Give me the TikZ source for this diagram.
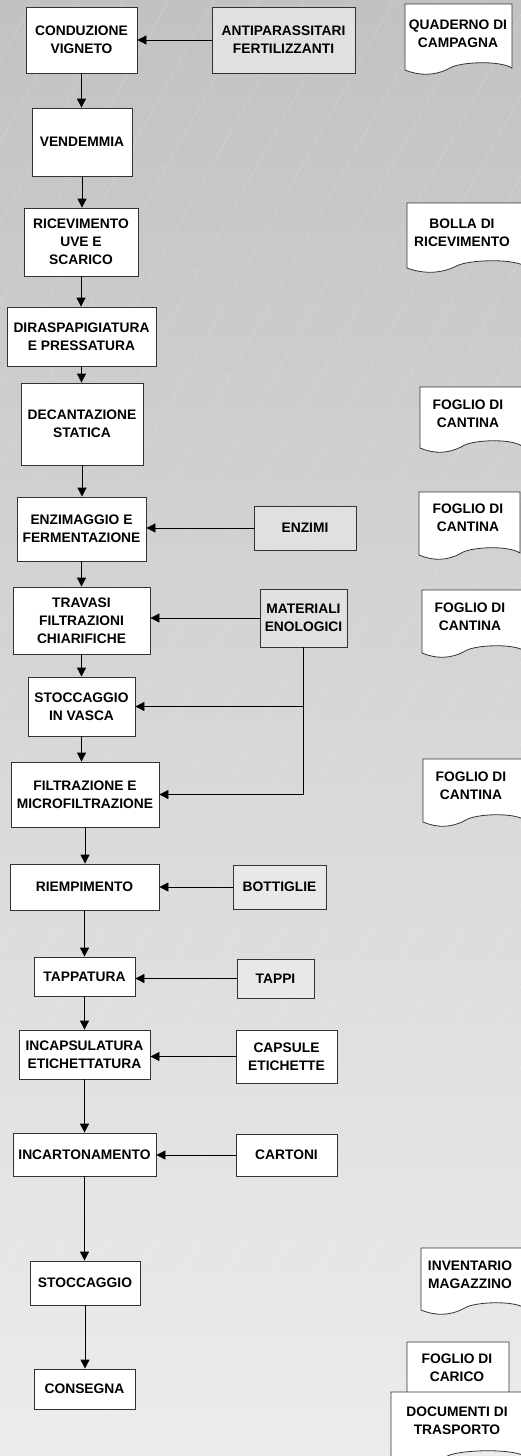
\documentclass[tikz,border=0pt]{standalone}
\usepackage{fontspec}
\setmainfont{Liberation Sans}
\usetikzlibrary{arrows.meta}
\newcommand\docshape[4]{%
  \pgfmathsetmacro\dW{#3-#1}%
  \draw[docline] (#1,#2) -- (#3,#2) -- ({#3},{#4-2})
    .. controls ({#1+0.88*\dW},{#4-10}) and ({#1+0.51*\dW},{#4-8}) .. ({#1+0.42*\dW},{#4-2})
    .. controls ({#1+0.28*\dW},{#4+6}) and ({#1+0.14*\dW},{#4+6}) .. (#1,#4) -- cycle;}
\tikzset{
  lbl/.style={font=\fontsize{13.8pt}{18pt}\selectfont\bfseries, align=center, inner sep=0pt},
  box/.style={lbl, draw=black!80, fill=white, line width=0.8pt},
  supply/.style={box, fill=black!12},
  docline/.style={draw=black!80, fill=white, line width=0.8pt},
  arr/.style={draw=black, line width=0.8pt, -{Triangle[length=9pt,width=9pt]}},
  hatch/.style={draw=white, opacity=0.22, line width=0.5pt}
}
\begin{document}
\begin{tikzpicture}[x=1pt,y=-1pt]
\useasboundingbox (0,0) rectangle (521,1456);
\shade[top color=black!24, bottom color=black!7.5] (0,0) rectangle (521,1456);
\begin{scope}
\clip (0,0) rectangle (521,1456);
\foreach \x in {-820,-775,...,540} {
  \draw[hatch] (\x,1456) -- ({\x+809},0);
}
\end{scope}

% main process
\node[box, minimum width=111pt, minimum height=66pt] (cond) at (81.5,40) {CONDUZIONE\\VIGNETO};
\node[box, minimum width=100pt, minimum height=68pt] (vend) at (82,142) {VENDEMMIA};
\node[box, minimum width=114pt, minimum height=68pt] (ric) at (81,242) {RICEVIMENTO\\UVE E\\SCARICO};
\node[box, minimum width=149pt, minimum height=59pt] (dir) at (81.5,336.5) {DIRASPAPIGIATURA\\E PRESSATURA};
\node[box, minimum width=122pt, minimum height=82pt] (dec) at (82,424) {DECANTAZIONE\\STATICA};
\node[box, minimum width=129pt, minimum height=64pt] (enz) at (81.5,529) {ENZIMAGGIO E\\FERMENTAZIONE};
\node[box, minimum width=137pt, minimum height=67pt] (trav) at (81.5,620.5) {TRAVASI\\FILTRAZIONI\\CHIARIFICHE};
\node[box, minimum width=107pt, minimum height=59pt] (vasca) at (81.5,706.5) {STOCCAGGIO\\IN VASCA};
\node[box, minimum width=148pt, minimum height=65pt] (filt) at (85,794.5) {FILTRAZIONE E\\MICROFILTRAZIONE};
\node[box, minimum width=149pt, minimum height=46pt] (riem) at (84.5,887) {RIEMPIMENTO};
\node[box, minimum width=101pt, minimum height=39pt] (tapp) at (84.5,976.5) {TAPPATURA};
\node[box, minimum width=131pt, minimum height=49pt] (inca) at (84.5,1054.5) {INCAPSULATURA\\ETICHETTATURA};
\node[box, minimum width=143pt, minimum height=43pt] (incart) at (84.5,1154.5) {INCARTONAMENTO};
\node[box, minimum width=110pt, minimum height=44pt] (stoc) at (85,1283) {STOCCAGGIO};
\node[box, minimum width=101pt, minimum height=40pt] (cons) at (84.5,1389) {CONSEGNA};

% supplies
\node[supply, minimum width=143pt, minimum height=66pt] (anti) at (283.5,40) {ANTIPARASSITARI\\FERTILIZZANTI};
\node[supply, minimum width=102pt, minimum height=44pt] (enzimi) at (305,528) {ENZIMI};
\node[supply, minimum width=87pt, minimum height=58pt] (mat) at (303.5,618) {MATERIALI\\ENOLOGICI};
\node[supply, fill=black!9, minimum width=93pt, minimum height=44pt] (bott) at (279.5,887) {BOTTIGLIE};
\node[supply, fill=black!9, minimum width=77pt, minimum height=39pt] (tappi) at (275.5,978.5) {TAPPI};
\node[box, minimum width=101pt, minimum height=53pt] (caps) at (286.5,1056.5) {CAPSULE\\ETICHETTE};
\node[box, minimum width=101pt, minimum height=42pt] (cart) at (286.5,1155) {CARTONI};

% main flow
\draw[arr] (cond.south) -- (cond.south |- vend.north);
\draw[arr] (vend.south) -- (vend.south |- ric.north);
\draw[arr] (ric.south) -- (ric.south |- dir.north);
\draw[arr] (dir.south) -- (dir.south |- dec.north);
\draw[arr] (dec.south) -- (dec.south |- enz.north);
\draw[arr] (enz.south) -- (enz.south |- trav.north);
\draw[arr] (trav.south) -- (trav.south |- vasca.north);
\draw[arr] (vasca.south) -- (vasca.south |- filt.north);
\draw[arr] (filt.south) -- (filt.south |- riem.north);
\draw[arr] (riem.south) -- (riem.south |- tapp.north);
\draw[arr] (tapp.south) -- (tapp.south |- inca.north);
\draw[arr] (inca.south) -- (inca.south |- incart.north);
\draw[arr] (incart.south) -- (incart.south |- stoc.north);
\draw[arr] (stoc.south) -- (stoc.south |- cons.north);

% inputs
\draw[arr] (anti.west) -- (anti.west -| cond.east);
\draw[arr] (enzimi.west) -- (enzimi.west -| enz.east);
\draw[arr] (mat.west) -- (mat.west -| trav.east);
\draw[arr] (mat.south) |- (vasca.east);
\draw[arr] (mat.south) |- (filt.east);
\draw[arr] (bott.west) -- (bott.west -| riem.east);
\draw[arr] (tappi.west) -- (tappi.west -| tapp.east);
\draw[arr] (caps.west) -- (caps.west -| inca.east);
\draw[arr] (cart.west) -- (cart.west -| incart.east);

% documents
\docshape{405}{4}{512}{70}
\node[lbl] (quad) at (458,33.5) {QUADERNO DI\\CAMPAGNA};
\docshape{407}{203}{525}{268}
\node[lbl] (bolla) at (462,232.5) {BOLLA DI\\RICEVIMENTO};
\docshape{420}{387}{522}{448}
\node[lbl] (fc1) at (468,414) {FOGLIO DI\\CANTINA};
\docshape{419}{492}{520}{555}
\node[lbl] (fc2) at (468,518) {FOGLIO DI\\CANTINA};
\docshape{422}{590}{525}{653}
\node[lbl] (fc3) at (470,617) {FOGLIO DI\\CANTINA};
\docshape{423}{759}{525}{822}
\node[lbl] (fc4) at (471,786) {FOGLIO DI\\CANTINA};
\docshape{421}{1248}{525}{1310}
\node[lbl] (inv) at (470,1275) {INVENTARIO\\MAGAZZINO};
\docshape{407}{1342}{509}{1405}
\node[lbl] (carico) at (457,1368) {FOGLIO DI\\CARICO};
\docshape{391}{1392}{525}{1458}
\node[lbl] (trasp) at (457,1420.5) {DOCUMENTI DI\\TRASPORTO};
\end{tikzpicture}
\end{document}
